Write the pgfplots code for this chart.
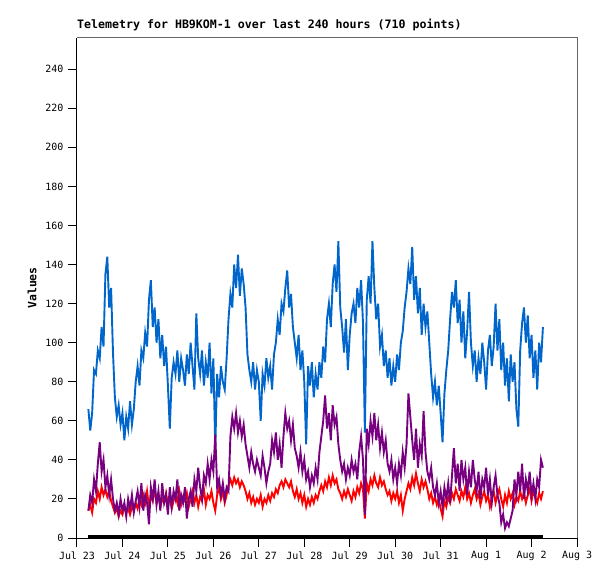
\documentclass[border=0pt]{standalone}
\usepackage{fontspec}
\setmainfont{DejaVu Sans Mono}
\usepackage{pgfplots}
\usepackage{pgfplotstable}
\pgfplotsset{compat=1.18}
\definecolor{tblue}{RGB}{0,102,204}
\definecolor{tpurple}{RGB}{120,0,128}
\definecolor{tred}{RGB}{255,0,0}
\definecolor{tgreen}{RGB}{0,170,0}
\definecolor{frame}{RGB}{102,102,102}
\pgfplotstableread{
h b p r
6 66 14 14
7 55 22 17
8 64 18 13
9 86 30 20
10 84 24 18
11 96 38 24
12 92 49 20
13 108 34 26
14 98 40 22
15 135 26 25
16 144 32 21
17 118 22 24
18 128 30 19
19 95 20 16
20 72 14 13
21 62 18 15
22 68 12 11
23 58 20 14
24 64 14 12
25 50 18 16
26 62 11 13
27 56 20 15
28 70 15 12
29 58 22 16
30 66 13 14
31 80 19 18
32 88 24 15
33 78 16 20
34 96 28 17
35 92 14 22
36 105 22 18
37 98 18 24
38 122 7 16
39 132 26 21
40 108 20 19
41 118 30 25
42 100 17 18
43 112 24 22
44 92 14 16
45 104 28 20
46 88 18 18
47 98 22 23
48 78 12 17
49 56 26 21
50 82 16 15
51 90 24 19
52 84 20 22
53 96 30 18
54 80 14 24
55 92 22 17
56 86 18 21
57 78 26 19
58 94 10 23
59 84 20 16
60 100 24 20
61 88 16 24
62 76 30 18
63 115 24 22
64 92 36 16
65 84 26 21
66 96 20 19
67 78 32 25
68 90 28 17
69 82 38 22
70 100 30 20
71 74 40 24
72 92 34 18
73 46 53 14
74 84 26 22
75 72 30 26
76 88 22 20
77 80 28 24
78 76 20 18
79 92 26 22
80 112 24 27
81 125 52 30
82 118 62 27
83 140 56 31
84 128 64 28
85 145 54 30
86 124 60 26
87 138 52 29
88 130 58 27
89 118 48 24
90 94 42 20
91 86 36 23
92 80 44 18
93 90 38 21
94 76 34 17
95 86 40 20
96 80 36 18
97 60 32 22
98 84 42 16
99 78 36 20
100 92 28 18
101 82 34 22
102 88 38 19
103 76 50 23
104 94 44 21
105 100 54 25
106 112 40 23
107 104 48 27
108 120 36 29
109 116 52 26
110 128 64 30
111 137 56 28
112 118 60 26
113 125 50 29
114 108 58 24
115 100 46 21
116 92 42 25
117 104 36 20
118 86 44 23
119 96 34 18
120 80 40 22
121 48 30 16
122 88 34 20
123 78 26 17
124 90 32 21
125 72 28 18
126 84 36 22
127 76 30 20
128 90 44 24
129 82 52 27
130 98 60 24
131 90 73 29
132 112 56 26
133 120 64 31
134 108 50 27
135 130 68 32
136 140 58 28
137 126 62 30
138 152 48 25
139 118 40 23
140 108 34 20
141 95 38 24
142 112 30 21
143 86 36 25
144 104 32 22
145 115 40 19
146 120 34 24
147 110 38 21
148 128 30 26
149 118 44 23
150 132 52 28
151 110 40 25
152 54 12 10
153 122 56 28
154 134 48 24
155 120 60 30
156 152 52 27
157 128 64 32
158 112 50 28
159 120 58 26
160 98 46 31
161 104 54 27
162 88 44 29
163 96 50 25
164 82 38 22
165 92 34 24
166 78 40 19
167 88 30 23
168 80 36 20
169 94 28 24
170 86 38 18
171 100 32 22
172 106 44 14
173 118 36 20
174 126 48 24
175 138 74 28
176 130 62 25
177 149 50 31
178 122 40 27
179 134 56 33
180 115 36 28
181 128 48 24
182 104 42 30
183 120 65 26
184 108 44 29
185 116 34 25
186 100 30 20
187 84 36 23
188 72 26 18
189 80 22 21
190 68 28 17
191 78 18 20
192 64 24 15
193 49 16 11
194 74 26 19
195 86 20 16
196 96 28 21
197 112 18 18
198 126 32 23
199 118 46 20
200 132 28 25
201 110 38 22
202 122 24 19
203 100 40 24
204 116 30 21
205 92 36 26
206 106 22 20
207 126 34 23
208 100 26 18
209 88 40 22
210 96 30 25
211 80 24 20
212 92 34 23
213 84 20 17
214 100 30 21
215 90 26 24
216 76 36 19
217 96 22 22
218 104 30 16
219 88 18 21
220 98 26 24
221 120 32 18
222 96 22 22
223 112 18 25
224 86 8 20
225 100 12 16
226 78 5 22
227 92 8 18
228 70 6 24
229 94 10 20
230 80 14 23
231 90 30 17
232 66 22 21
233 57 34 19
234 96 24 24
235 110 38 20
236 118 20 23
237 100 30 18
238 114 24 22
239 92 34 25
240 104 22 19
241 82 28 24
242 96 20 21
243 76 30 18
244 100 26 23
245 90 40 20
246 108 36 24
}\telem
\pgfplotstableread{
h v
6 0.9
246 0.9
}\zeroline
\begin{document}
\begin{tikzpicture}
\path[use as bounding box] (-77bp,-41bp) rectangle (538bp,538bp);
\begin{axis}[
  at={(0,0)}, anchor=south west,
  width=500bp, height=500bp, scale only axis,
  xmin=0, xmax=264, ymin=0, ymax=256,
  axis lines*=left,
  axis line style={-, black, line width=1bp},
  xtick={0,24,...,264},
  xticklabels={Jul 23,Jul 24,Jul 25,Jul 26,Jul 27,Jul 28,Jul 29,Jul 30,Jul 31,Aug 1,Aug 2,Aug 3},
  ytick={0,20,...,240},
  tick align=outside,
  major tick length=9bp,
  tick style={black, line width=1bp},
  ticklabel style={font=\fontsize{10}{12}\selectfont},
  /pgf/number format/assume math mode=true,
  yticklabel style={xshift=-1bp},
  xticklabel style={yshift=-1bp},
  title={\bfseries Telemetry for HB9KOM-1 over last 240 hours (710 points)},
  title style={at={(rel axis cs:0,1)}, anchor=base west, yshift=4bp, inner sep=0pt, font=\fontsize{11.65}{13}\selectfont},
  ylabel={\bfseries Values},
  ylabel style={at={(rel axis cs:-0.09,0.5)}, anchor=center, font=\fontsize{11.5}{13}\selectfont},
  clip=false,
]
\draw[frame, line width=1bp] (rel axis cs:0,1) -- (rel axis cs:1,1) -- (rel axis cs:1,0);
\addplot[black, line width=2.6bp] table[x=h, y=v] {\zeroline};
\addplot[tblue, line width=1.9bp] table[x=h, y=b] {\telem};
\addplot[tred, line width=1.9bp] table[x=h, y=r] {\telem};
\addplot[tpurple, line width=1.9bp] table[x=h, y=p] {\telem};
\end{axis}
\end{tikzpicture}
\end{document}
